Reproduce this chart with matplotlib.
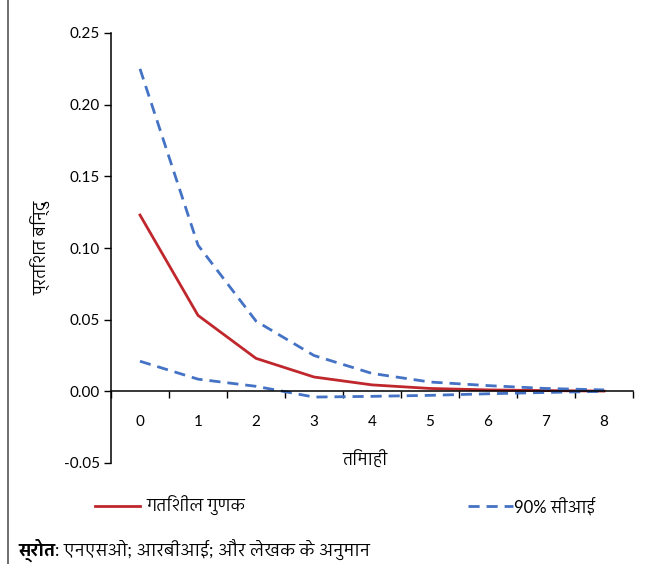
import matplotlib
matplotlib.use('Agg')
import matplotlib.pyplot as plt
from matplotlib import font_manager
from matplotlib.ft2font import FT2Font
from matplotlib.lines import Line2D


# find installed fonts that have Devanagari glyphs, prefer a sans one
def findDevanagari():
    seen = set()
    found = []
    for f in font_manager.fontManager.ttflist:
        if f.fname in seen:
            continue
        seen.add(f.fname)
        try:
            if FT2Font(f.fname).get_char_index(ord('त')) != 0:
                found.append(f.name)
        except Exception:
            pass
    if not found:
        return None
    def rank(n):
        n2 = n.lower()
        r = 0
        if 'mono' in n2 or 'code' in n2:
            r += 10
        if 'sans' not in n2:
            r += 3
        if 'devanagari' in n2:
            r -= 2
        return r
    found.sort(key=rank)
    return found[0]


hindi = findDevanagari()
fams = ['Lato', hindi, 'DejaVu Sans'] if hindi else ['Lato', 'DejaVu Sans']
plt.rcParams['font.family'] = fams

# data
quarters = ['0', '1', '2', '3', '4', '5', '6', '7', '8']
multiplier = [0.123, 0.053, 0.023, 0.010, 0.0045, 0.002, 0.001, 0.0005, 0.0002]
ci_upper = [0.225, 0.102, 0.049, 0.025, 0.0125, 0.0065, 0.004, 0.002, 0.001]
ci_lower = [0.021, 0.0085, 0.0035, -0.004, -0.0035, -0.0028, -0.0017, -0.0008, 0.0]

red = '#C0272D'
blue = '#4472C4'

fig = plt.figure(figsize=(6.46, 5.64), dpi=100)
ax = fig.add_axes([111/646, 101/564, 522/646, 430/564])

x = list(range(len(quarters)))
ax.plot(x, multiplier, color=red, lw=2.0)
ax.plot(x, ci_upper, color=blue, lw=2.0, ls=(0, (4, 2.5)))
ax.plot(x, ci_lower, color=blue, lw=2.0, ls=(0, (4, 2.5)))

ax.set_xlim(-0.5, 8.5)
ax.set_ylim(-0.05, 0.25)
ax.set_yticks([-0.05, 0, 0.05, 0.10, 0.15, 0.20, 0.25])
ax.set_yticklabels(['-0.05', '0.00', '0.05', '0.10', '0.15', '0.20', '0.25'])
ax.set_xticks(x)
ax.set_xticklabels(quarters)
ax.set_xticks([i - 0.5 for i in range(len(quarters) + 1)], minor=True)

ax.spines['right'].set_visible(False)
ax.spines['top'].set_visible(False)
ax.spines['bottom'].set_position(('data', 0))
ax.tick_params(axis='x', which='major', length=0, pad=17, labelsize=11)
ax.tick_params(axis='x', which='minor', length=5, direction='out', width=1)
ax.tick_params(axis='y', length=5, direction='out', width=1, labelsize=11, pad=3)
for sp in ['left', 'bottom']:
    ax.spines[sp].set_linewidth(1.1)

ax.set_ylabel('प्रतिशत बिन्दु', fontsize=12, labelpad=9)
fig.text(365/646, 1 - 460/564, 'तिमाही', fontsize=12, ha='center', va='center')

# legend
h1 = Line2D([], [], color=red, lw=2.0)
h2 = Line2D([], [], color=blue, lw=2.0, ls=(0, (4, 2.5)))
fig.legend([h1], ['गतिशील गुणक'], loc='center left', bbox_to_anchor=(80/646, 1 - 506/564),
           frameon=False, fontsize=12, handlelength=2.7, handletextpad=0.4)
fig.legend([h2], ['90% सीआई'], loc='center left', bbox_to_anchor=(453/646, 1 - 506/564),
           frameon=False, fontsize=12, handlelength=2.7, handletextpad=0.05)

# source line: bold label then the rest right after it
src_lbl = fig.text(18/646, 1 - 550/564, 'स्रोत', fontsize=12.5, fontweight='bold', va='center')
renderer = fig.canvas.get_renderer()
bb = src_lbl.get_window_extent(renderer)
fig.text(bb.x1 / fig.bbox.width, 1 - 550/564, ': एनएसओ; आरबीआई; और लेखक के अनुमान', fontsize=12.5, va='center')

# left border of the panel
fig.add_artist(Line2D([8/646, 8/646], [0, 1], color='#555555', lw=1.2))

fig.savefig('out.png', dpi=100)
